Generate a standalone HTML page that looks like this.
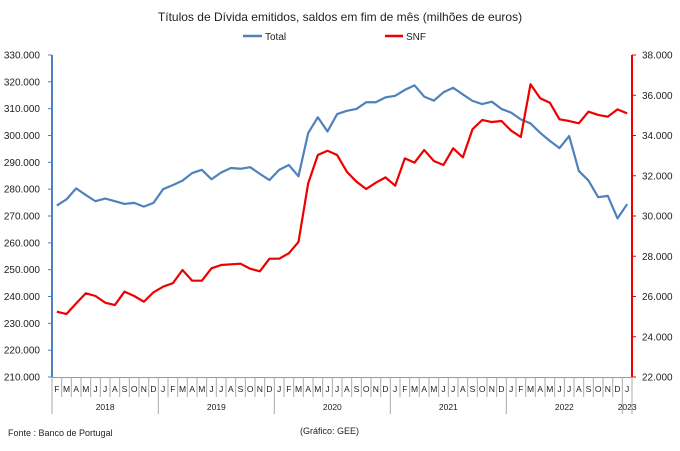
<!DOCTYPE html>
<html><head><meta charset="utf-8"><style>
body{margin:0;background:#fff;font-family:"Liberation Sans",sans-serif;}
svg text{font-family:"Liberation Sans",sans-serif;}
</style></head><body>
<svg width="680" height="446" viewBox="0 0 680 446" id="c">
<text x="340" y="21" text-anchor="middle" font-size="12" fill="#222">Títulos de Dívida emitidos, saldos em fim de mês  (milhões de euros)</text>
<g>
<line x1="243" y1="36" x2="262" y2="36" stroke="#4f81bd" stroke-width="2.5"/>
<text x="265" y="40" font-size="10" fill="#222">Total</text>
<line x1="385" y1="36" x2="403" y2="36" stroke="#e00" stroke-width="2.5"/>
<text x="406" y="40" font-size="10" fill="#222">SNF</text>
</g>
<text x="8" y="436" font-size="9" fill="#222">Fonte : Banco de Portugal</text>
<text x="300" y="434" font-size="9" fill="#222">(Gráfico:  GEE)</text>
<g id="axes"></g>
</svg>
<script>
const months=["F","M","A","M","J","J","A","S","O","N","D","J","F","M","A","M","J","J","A","S","O","N","D","J","F","M","A","M","J","J","A","S","O","N","D","J","F","M","A","M","J","J","A","S","O","N","D","J","F","M","A","M","J","J","A","S","O","N","D","J"];
const years=["2018","2019","2020","2021","2022","2023"];
const yearCounts=[11,12,12,12,12,1];
const totalValues=[273900,276200,280300,277800,275500,276500,275500,274500,274900,273500,274900,280000,281500,283200,286000,287200,283700,286200,287900,287600,288200,285700,283400,287200,289000,284800,300900,306800,301500,308000,309200,309900,312400,312400,314200,314800,317000,318700,314500,313000,316100,317800,315300,312900,311700,312600,309900,308500,306000,304500,301000,298000,295300,299800,286800,283200,277000,277500,269100,274400];
const snfValues=[25245,25130,25660,26160,26025,25695,25575,26240,26025,25740,26210,26490,26660,27315,26785,26785,27400,27565,27600,27630,27380,27250,27880,27880,28145,28710,31620,33030,33245,33030,32200,31705,31340,31655,31920,31505,32865,32650,33280,32735,32535,33365,32915,34310,34770,34670,34720,34240,33925,36545,35850,35630,34805,34720,34605,35185,35020,34935,35300,35100];
const leftTicks=[210000,220000,230000,240000,250000,260000,270000,280000,290000,300000,310000,320000,330000];
const rightTicks=[22000,24000,26000,28000,30000,32000,34000,36000,38000];
</script>
<script>
(function(){
const NS="http://www.w3.org/2000/svg";
const g=document.getElementById("axes");
const X0=52,X1=632,Y0=377,Y1=55;
const n=months.length,cw=(X1-X0)/n;
const yL=v=>Y0-(v-210000)/120000*(Y0-Y1);
const yR=v=>Y0-(v-22000)/16000*(Y0-Y1);
const xC=i=>X0+(i+0.5)*cw;
function mk(t,a,txt){const e=document.createElementNS(NS,t);for(const k in a)e.setAttribute(k,a[k]);if(txt!==undefined)e.textContent=txt;g.appendChild(e);return e;}
let e;
e=mk("line",{x1:X0,y1:Y1,x2:X0,y2:Y0,stroke:"#4f81bd","stroke-width":2});


e=mk("line",{x1:X1,y1:Y1,x2:X1,y2:Y0,stroke:"#e00","stroke-width":2});


e=mk("line",{x1:X0,y1:Y0+0.5,x2:X1,y2:Y0+0.5,stroke:"#999","stroke-width":1});


leftTicks.forEach(v=>{
 mk("line",{x1:X0-4,y1:yL(v),x2:X0,y2:yL(v),stroke:"#4f81bd"});
 e=mk("text",{x:40,y:yL(v)+3.5,"text-anchor":"end","font-size":"10",fill:"#222"},v.toLocaleString("de-DE").replace(/,/g,"."));
 
 
});
rightTicks.forEach(v=>{
 mk("line",{x1:X1,y1:yR(v),x2:X1+4,y2:yR(v),stroke:"#e00"});
 e=mk("text",{x:642,y:yR(v)+3.5,"font-size":"10",fill:"#222"},v.toLocaleString("de-DE").replace(/,/g,"."));
 
 
});
for(let i=0;i<=n;i++){mk("line",{x1:X0+i*cw,y1:Y0,x2:X0+i*cw,y2:397,stroke:"#aaa"});}
months.forEach((m,i)=>{
 e=mk("text",{x:xC(i),y:392,"text-anchor":"middle","font-size":"8.5",fill:"#222"},m);
 
 
});
let s=0;
years.forEach((y,k)=>{
 const a=s,b=s+yearCounts[k];
 mk("line",{x1:X0+a*cw,y1:397,x2:X0+a*cw,y2:414,stroke:"#aaa"});
 e=mk("text",{x:X0+(a+b)/2*cw,y:410,"text-anchor":"middle","font-size":"8.5",fill:"#222"},y);
 
 
 s=b;
});
mk("line",{x1:X1,y1:397,x2:X1,y2:414,stroke:"#aaa"});
e=mk("polyline",{points:totalValues.map((v,i)=>xC(i)+","+yL(v)).join(" "),fill:"none",stroke:"#4f81bd","stroke-width":2.2,"stroke-linejoin":"round"});


e=mk("polyline",{points:snfValues.map((v,i)=>xC(i)+","+yR(v)).join(" "),fill:"none",stroke:"#e00","stroke-width":2.2,"stroke-linejoin":"round"});


})();
</script>
</body></html>
